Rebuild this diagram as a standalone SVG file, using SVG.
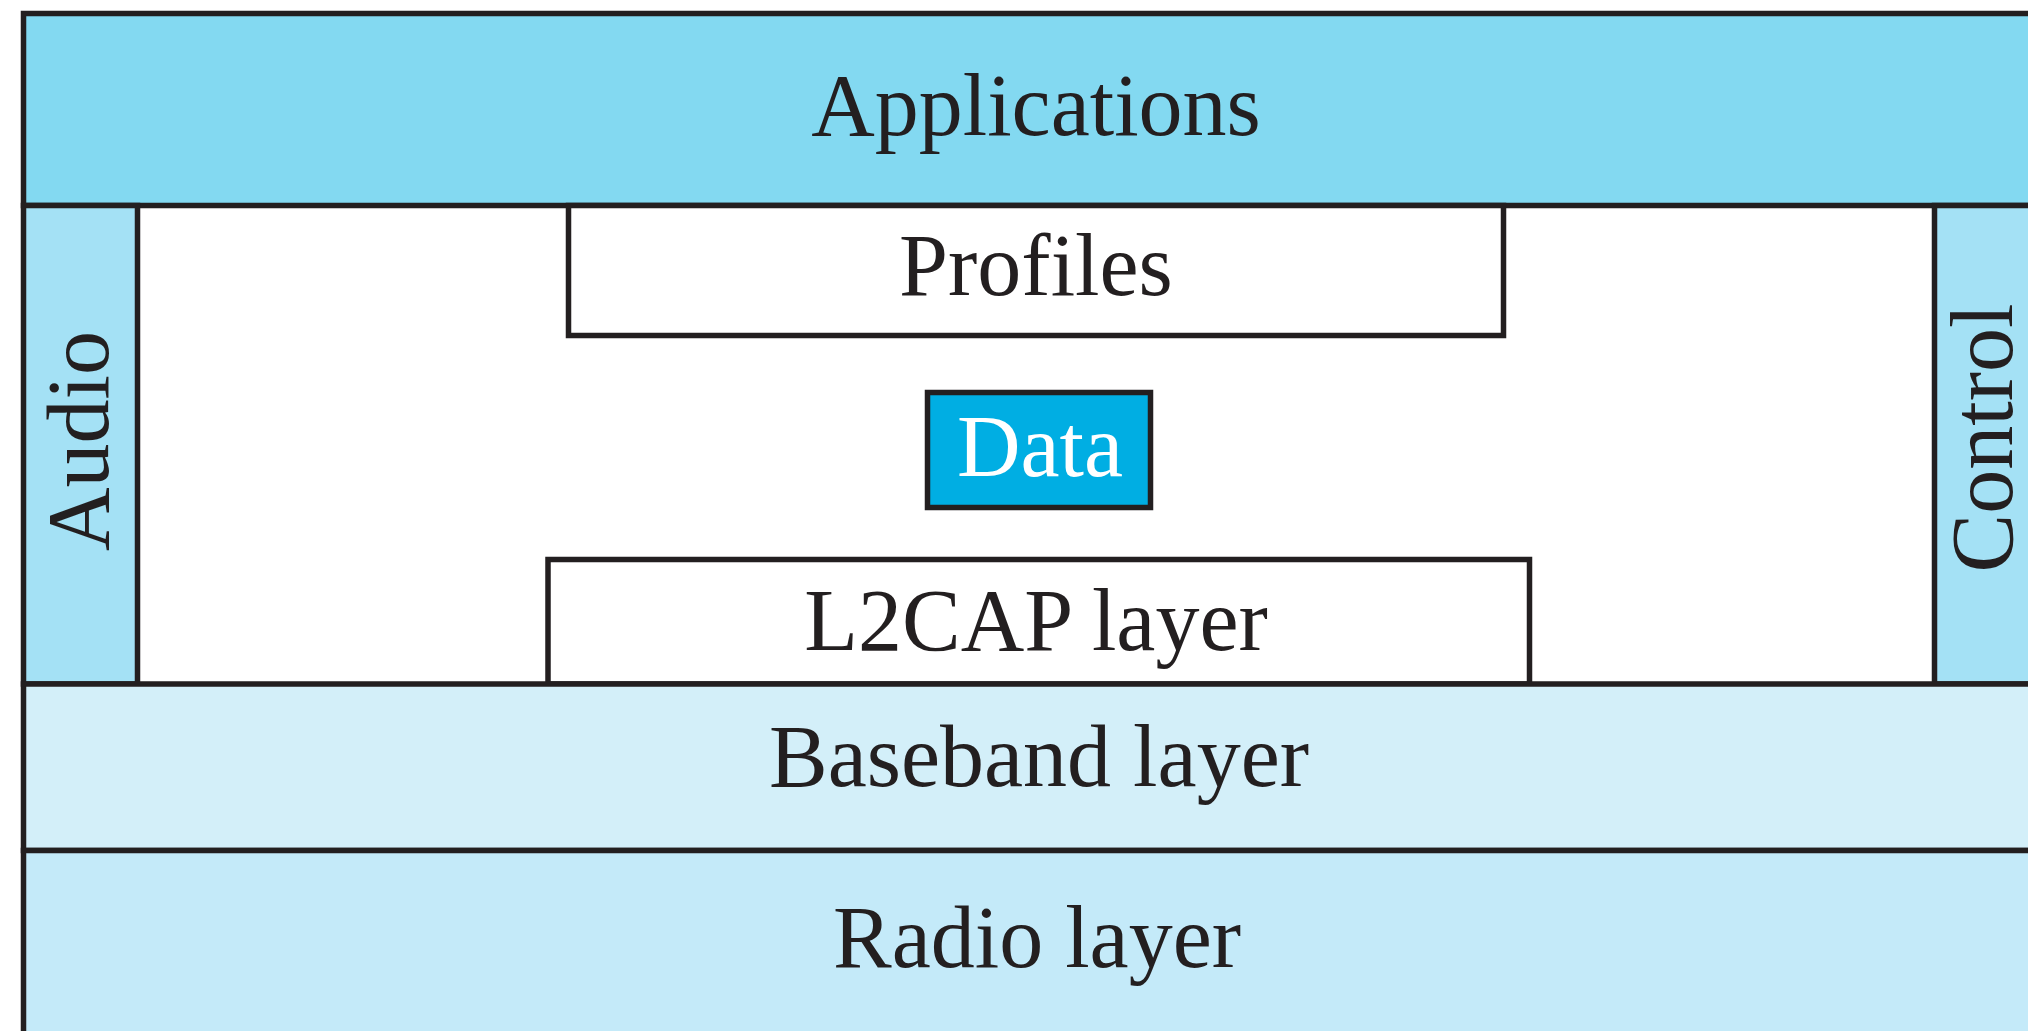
<svg xmlns="http://www.w3.org/2000/svg" width="2028" height="1031" viewBox="0 0 2028 1031">
<style>
.ln{stroke:#231F20;stroke-width:5.5;}
.t{font-family:"Liberation Serif","Times New Roman",serif;font-size:88px;fill:#231F20;text-anchor:middle;}
</style>
<rect width="2028" height="1031" fill="#FFFFFF"/>
<g id="applications">
<rect class="ln" x="23.5" y="13.5" width="2030" height="192" fill="#83D9F1"/>
<text class="t" x="1036" y="135">Applications</text>
</g>
<g id="audio">
<rect class="ln" x="23.5" y="205.5" width="114" height="478.5" fill="#A4E1F5"/>
<text class="t" transform="translate(108,441) rotate(-90)" x="0" y="0">Audio</text>
</g>
<g id="control">
<rect class="ln" x="1934.5" y="205.5" width="120" height="478.5" fill="#A4E1F5"/>
<text class="t" transform="translate(2012,438) rotate(-90)" x="0" y="0">Control</text>
</g>
<g id="profiles">
<rect class="ln" x="568.5" y="205.5" width="935" height="130" fill="#FFFFFF"/>
<text class="t" x="1036" y="295">Profiles</text>
</g>
<g id="data">
<rect class="ln" x="927.5" y="392.5" width="223" height="115" fill="#00AEE3"/>
<text class="t" x="1040" y="476" style="fill:#FFFFFF">Data</text>
</g>
<g id="l2cap">
<rect class="ln" x="548" y="559.5" width="981.5" height="124.5" fill="#FFFFFF"/>
<text class="t" x="1036" y="650">L2CAP layer</text>
</g>
<g id="baseband">
<rect class="ln" x="23.5" y="684" width="2030" height="166.5" fill="#D3EFF9"/>
<text class="t" x="1039" y="786">Baseband layer</text>
</g>
<g id="radio">
<rect class="ln" x="23.5" y="850.5" width="2030" height="200" fill="#C4EAF9"/>
<text class="t" x="1037" y="967">Radio layer</text>
</g>
<g id="connectors"></g>
</svg>
